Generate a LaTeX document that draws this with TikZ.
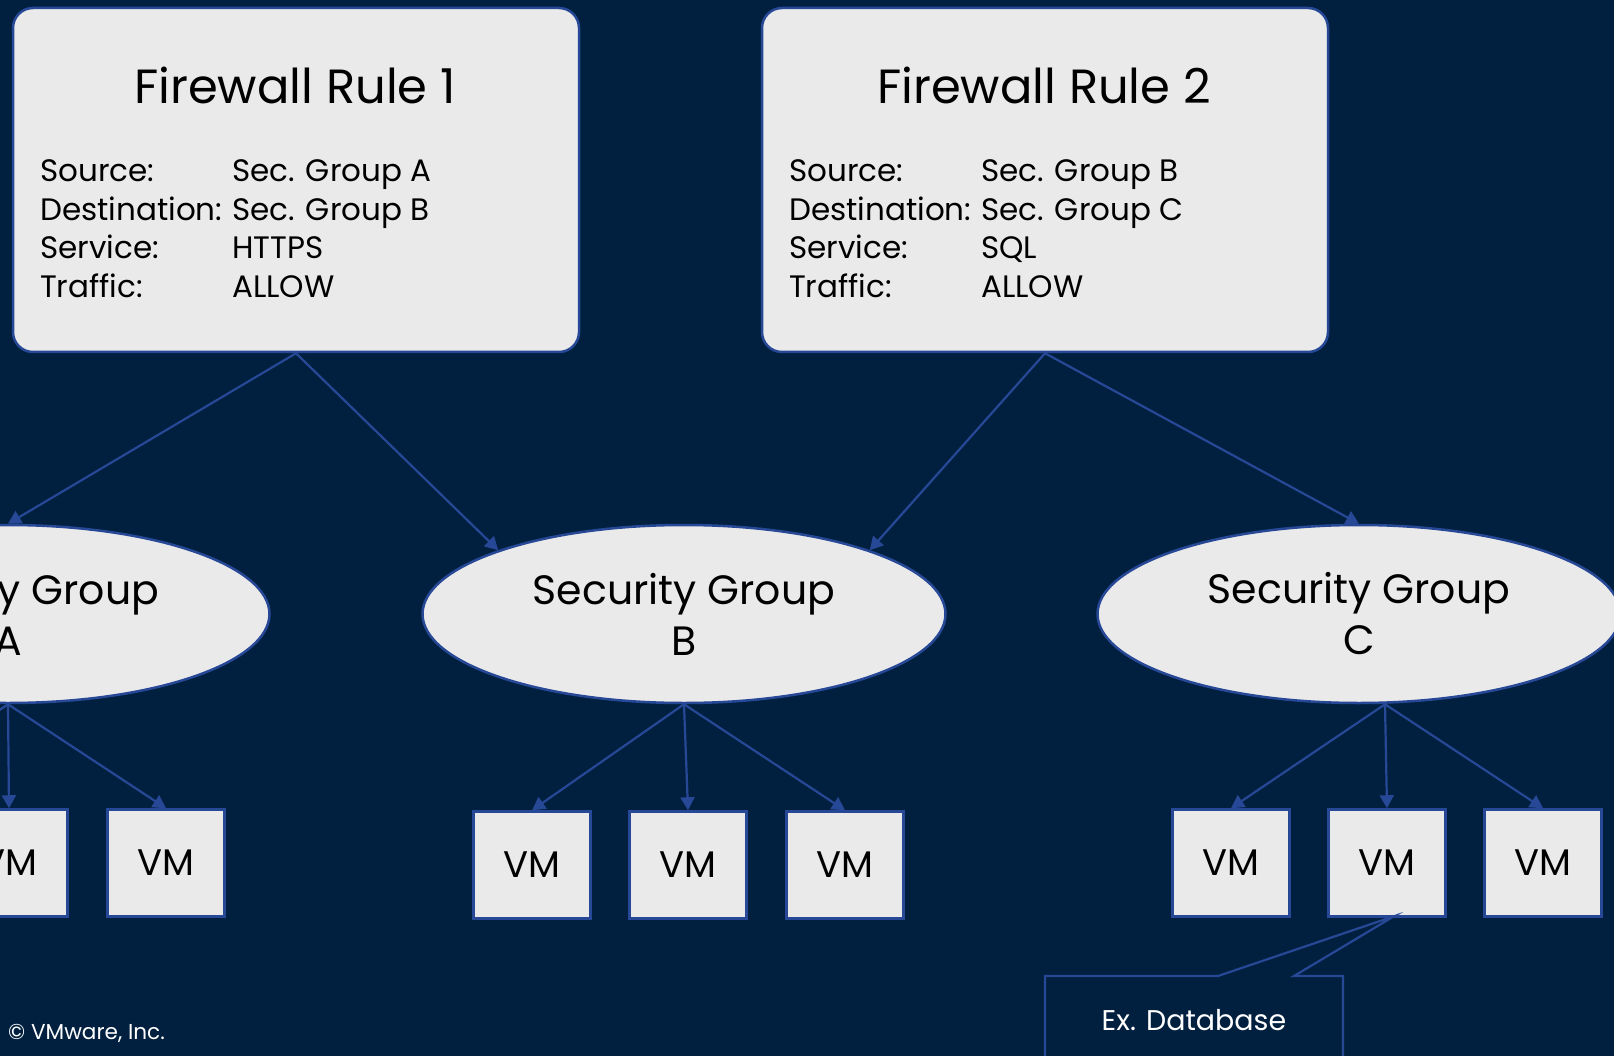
\documentclass[tikz,border=0pt]{standalone}
\usepackage{fontspec}
\setmainfont{Poppins}
\usepackage{tikz}
\usetikzlibrary{positioning, shapes, arrows.meta}
\definecolor{fondbleu}{HTML}{01203F}
\definecolor{trait}{HTML}{264896}
\definecolor{gris}{HTML}{EAEAEA}
\tikzstyle{regle}=[rectangle, rounded corners=20pt, draw=trait, line width=2.5pt, fill=gris, minimum width=566pt, minimum height=344pt]
\tikzstyle{titre}=[font=\fontsize{48}{56}\selectfont, inner sep=0pt]
\tikzstyle{champs}=[font=\fontsize{31}{38.4}\selectfont, inner sep=0pt, anchor=base west]
\tikzstyle{groupe}=[ellipse, draw=trait, line width=2.5pt, fill=gris, minimum width=523pt, minimum height=178pt, inner sep=0pt, align=center, font=\fontsize{41}{51}\selectfont]
\tikzstyle{vm}=[rectangle, draw=trait, line width=2.5pt, fill=gris, minimum width=117pt, minimum height=107pt, font=\fontsize{37}{44}\selectfont]
\tikzstyle{lien}=[draw=trait, line width=2.2pt, -{Triangle[width=14pt,length=13pt]}]
\tikzstyle{bulle}=[draw=trait, line width=2.2pt]

\begin{document}
\begin{tikzpicture}[x=1pt, y=-1pt]
        \fill[fondbleu] (0,0) rectangle (1614,1056);
        \useasboundingbox (0,0) rectangle (1614,1056);

        % Les règles
        \node[regle] (r1) at (296,180) {};
        \node[regle] (r2) at (1045,180) {};
        \node[titre] (r1t) at (295,85) {Firewall Rule 1};
        \node[titre] (r2t) at (1044,85) {Firewall Rule 2};
        \node[champs] (r1c) at (40,182) {\begin{tabular}[t]{@{}p{192pt}@{}l@{}}Source: & Sec. Group A\\ Destination: & Sec. Group B\\ Service: & HTTPS\\ Traffic: & ALLOW\end{tabular}};
        \node[champs] (r2c) at (789,182) {\begin{tabular}[t]{@{}p{192pt}@{}l@{}}Source: & Sec. Group B\\ Destination: & Sec. Group C\\ Service: & SQL\\ Traffic: & ALLOW\end{tabular}};

        % Les groupes
        \node[groupe] (sgA) at (8,614) {Security Group\\A};
        \node[groupe] (sgB) at (684,614) {Security Group\\B};
        \node[groupe] (sgC) at (1359,614) {Security Group\\C};

        % Les VM
        \foreach \x [count=\i] in {-146,9,166} \node[vm] (vmA\i) at (\x,863) {VM};
        \foreach \x [count=\i] in {532,688,845} \node[vm] (vmB\i) at (\x,865) {VM};
        \foreach \x [count=\i] in {1231,1387,1543} \node[vm] (vmC\i) at (\x,863) {VM};

        % Les flèches
        \draw[lien] (r1.south) -- (sgA.north);
        \draw[lien] (r1.south) -- (sgB.north west);
        \draw[lien] (r2.south) -- (sgB.north east);
        \draw[lien] (r2.south) -- (sgC.north);
        \foreach \i in {1,2,3} {
            \draw[lien] (sgA.south) -- (vmA\i.north);
            \draw[lien] (sgB.south) -- (vmB\i.north);
            \draw[lien] ([xshift=26pt]sgC.south) -- (vmC\i.north);
        }

        % La bulle
        \node[font=\fontsize{28.5}{32}\selectfont, text=white, inner sep=0pt] (db) at (1194,1020) {Ex. Database};
        \draw[bulle] (1045,1075) -- (1045,976) -- (1218,976) -- ([xshift=7pt,yshift=1.5pt]vmC2.south) -- (1294,976) -- (1343,976) -- (1343,1075);

        \node[font=\fontsize{21.6}{25}\selectfont, text=white, anchor=west, inner sep=0pt] (copy) at (8,1033) {© VMware, Inc.};
    \end{tikzpicture}
\end{document}
